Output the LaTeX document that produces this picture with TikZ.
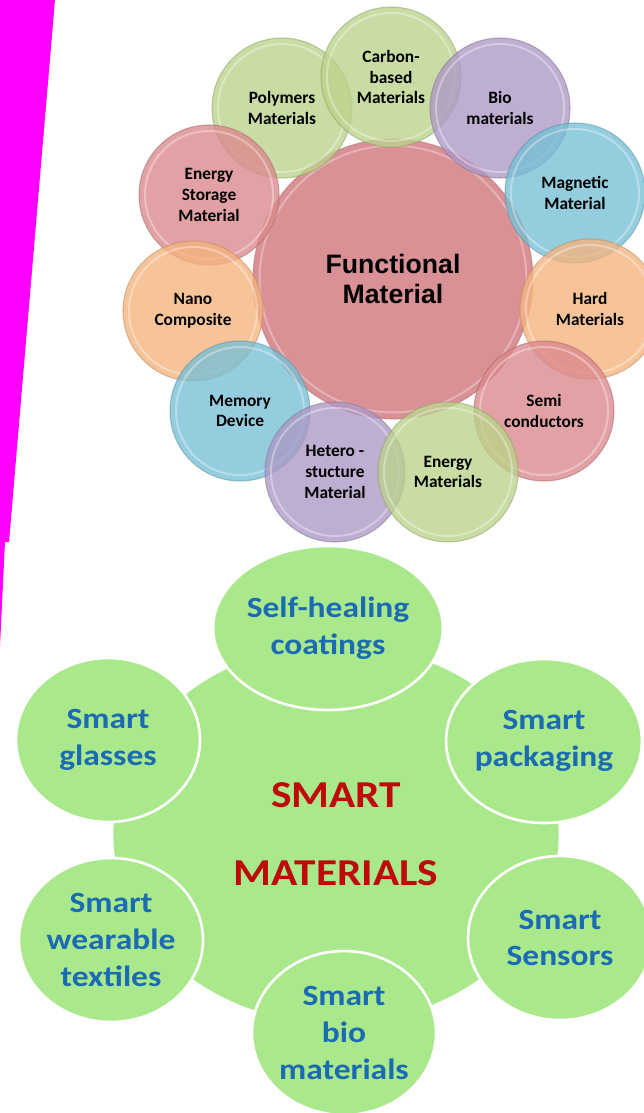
\documentclass[tikz,border=0pt]{standalone}
\usepackage{fontspec}
\setmainfont{Carlito}
\newfontfamily\smartfont[FakeStretch=1.14]{Carlito}
\newfontfamily\corefont{Liberation Sans}
\usetikzlibrary{shapes.geometric}
\definecolor{stripmagenta}{RGB}{255,0,255}
\definecolor{fmgreen}{HTML}{BBD38A}
\definecolor{fmred}{HTML}{DB878C}
\definecolor{fmpurple}{HTML}{AC98C6}
\definecolor{fmblue}{HTML}{76BFD5}
\definecolor{fmorange}{HTML}{F6B47E}
\definecolor{fmcore}{HTML}{D47E83}
\definecolor{smgreen}{HTML}{AAE88C}
\definecolor{smblue}{HTML}{1A6AB4}
\definecolor{smred}{HTML}{BE0A0A}
\begin{document}
\begin{tikzpicture}[x=0.75pt,y=-0.75pt,
    fm/.style={circle, minimum size=105pt, inner sep=0pt, fill=#1, fill opacity=0.78,
        draw=#1!75!black, draw opacity=0.5, line width=0.8pt, text opacity=1, align=center,
        font=\bfseries\fontsize{13}{15.5}\selectfont,
        path picture={\draw[white, draw opacity=0.35, line width=1.5pt]
            (path picture bounding box.center) circle[radius=48pt];}},
    fmcentre/.style={circle, minimum size=210pt, inner sep=0pt, fill=fmcore, fill opacity=0.85,
        draw=fmcore!75!black, draw opacity=0.4, line width=0.8pt, text opacity=1, align=center,
        font=\corefont\bfseries\fontsize{20}{22.5}\selectfont,
        path picture={\draw[white, draw opacity=0.3, line width=1.5pt]
            (path picture bounding box.center) circle[radius=100pt];}},
    sm/.style={ellipse, minimum width=138pt, minimum height=123pt, inner sep=0pt, fill=smgreen,
        draw=white, line width=2pt, text=smblue, align=center,
        font=\smartfont\bfseries\fontsize{22}{27.5}\selectfont},
    smcentre/.style={ellipse, minimum width=334pt, minimum height=284pt, inner sep=0pt,
        fill=smgreen, text=smred, align=center,
        font=\smartfont\bfseries\fontsize{28.5}{58.5}\selectfont}]
    \useasboundingbox (0,0) rectangle (643,1113);
    \fill[white] (0,0) rectangle (643,1113);

    % magenta strip on the left
    \fill[stripmagenta] (0,0) -- (55,0) -- (9,542) -- (0,542) -- cycle;
    \fill[stripmagenta] (0,542) -- (5,542) -- (0,646) -- cycle;

    % functional materials
    \node (functional) [fmcentre] at (393,279) {Functional\\Material};
    \node (polymers) [fm=fmgreen] at (282,108) {Polymers\\Materials};
    \node (carbon) [fm=fmgreen] at (391,77) {Carbon-\\based\\Materials};
    \node (bio) [fm=fmpurple] at (500,108) {Bio\\materials};
    \node (storage) [fm=fmred] at (209,195) {Energy\\Storage\\Material};
    \node (magnetic) [fm=fmblue] at (575,193) {Magnetic\\Material};
    \node (nano) [fm=fmorange] at (193,311) {Nano\\Composite};
    \node (hard) [fm=fmorange] at (590,309) {Hard\\Materials};
    \node (memory) [fm=fmblue] at (240,411) {Memory\\Device};
    \node (semi) [fm=fmred] at (544,411) {Semi\\conductors};
    \node (hetero) [fm=fmpurple] at (335,472) {Hetero -\\stucture\\Material};
    \node (energy) [fm=fmgreen] at (448,472) {Energy\\Materials};

    % smart materials
    \node (smart) [smcentre] at (336,834) {SMART\\MATERIALS};
    \node (coatings) [sm] at (328,628) {Self-healing\\coatings};
    \node (glasses) [sm] at (108,740) {Smart\\glasses};
    \node (packaging) [sm] at (544,741) {Smart\\packaging};
    \node (textiles) [sm] at (111,940) {Smart\\wearable\\textiles};
    \node (sensors) [sm] at (560,938) {Smart\\Sensors};
    \node (biomat) [sm] at (344,1033) {Smart\\bio\\materials};
\end{tikzpicture}
\end{document}
